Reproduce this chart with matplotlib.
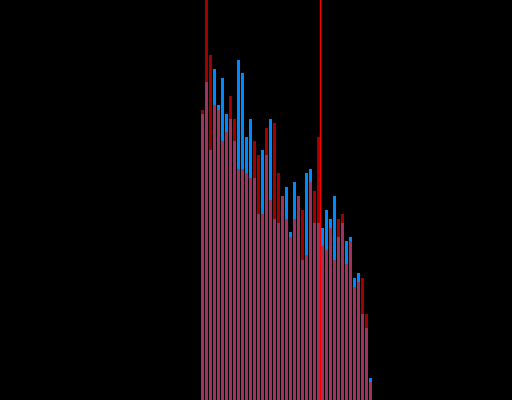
import matplotlib
matplotlib.use("Agg")
import matplotlib.pyplot as plt
import numpy as np

bins = list(range(43))
red_counts = [72.5, 105, 86.25, 73.75, 72.5, 64.75, 67, 76, 70.25, 57.75,
              57.75, 56.75, 55.5, 64.75, 61.25, 46.5, 68, 50, 69.25, 56.75,
              51, 45.25, 40.75, 45.25, 51, 47.5, 36.25, 54.5, 52.25, 65.75,
              38.5, 37.5, 43, 35, 45.25, 46.5, 34, 39.75, 28.25, 29.5,
              30.5, 21.5, 4.5]
blue_counts = [71.5, 79.5, 62.5, 82.75, 73.75, 80.5, 71.5, 70.25, 64.75, 85,
               81.75, 65.75, 70.25, 55.5, 46.5, 62.5, 61.25, 70.25, 45.25, 44.25,
               51, 53.25, 42, 54.5, 51, 35, 56.75, 57.75, 44.25, 44.25,
               43, 47.5, 45.25, 51, 40.75, 44.25, 39.75, 40.75, 30.5, 31.75,
               21.5, 18, 5.5]
marker_x = 29.4

fig = plt.figure(figsize=(5.12, 4.0), dpi=100, facecolor="black")
ax = fig.add_axes([0, 0, 1, 1])
ax.set_facecolor("black")
ax.bar(bins, blue_counts, width=0.75, color="#0088ff", linewidth=0)
ax.bar(bins, red_counts, width=0.75, color="#ff0000", alpha=0.63, linewidth=0)
ax.axvline(marker_x, color="#ff0000", linewidth=1.0)
ax.set_xlim(-50.625, 77.375)
ax.set_ylim(0, 100)
ax.axis("off")
fig.savefig("out.png", dpi=100, facecolor="black")
